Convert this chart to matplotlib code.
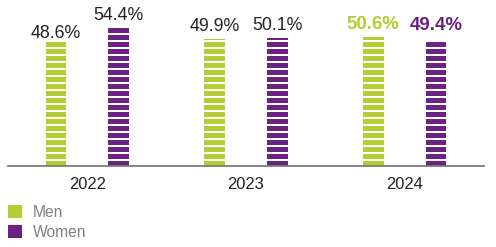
import matplotlib
matplotlib.use("Agg")
import matplotlib.pyplot as plt
from matplotlib.patches import Patch
import numpy as np

years = ["2022", "2023", "2024"]
men = [48.6, 49.9, 50.6]
women = [54.4, 50.1, 49.4]
men_labels = ["48.6%", "49.9%", "50.6%"]
women_labels = ["54.4%", "50.1%", "49.4%"]

# styling: gap (px) between bar top and label baseline
men_gap_px = [4.3, 7.7, 7.7]
women_gap_px = [8.0, 8.0, 10.7]

GREEN = "#b5cd35"
PURPLE = "#6b2283"
DARK = "#222222"

DPI = 84
plt.rcParams["font.family"] = ["Liberation Sans", "DejaVu Sans"]

fig = plt.figure(figsize=(496 / DPI, 247 / DPI), dpi=DPI)
W, H = 496, 247
ax_left, ax_right = 8, 484
ax_bottom_px, ax_top_px = 165.7, 13.3
YMAX = 60
ax = fig.add_axes([ax_left / W, 1 - ax_bottom_px / H, (ax_right - ax_left) / W, (ax_bottom_px - ax_top_px) / H])

x = np.arange(len(years))
off = 0.198
bw = 0.13
ax.bar(x - off, men, bw, color=GREEN, linewidth=0)
ax.bar(x + off, women, bw, color=PURPLE, linewidth=0)

# white horizontal stripes across bars (decoration), 7px period, 2px gap
px_per_unit = (ax_bottom_px - ax_top_px) / YMAX
period = 7 / px_per_unit
gap_lw = 2 * 72 / DPI
for xs, vals in ((x - off, men), (x + off, women)):
    for xc, v in zip(xs, vals):
        ys = np.arange(6 / px_per_unit, v, period)
        ax.hlines(ys, xc - bw / 2, xc + bw / 2, colors="white", linewidth=gap_lw)

ax.set_xlim(-0.5, 2.5)
ax.set_ylim(0, YMAX)
ax.set_yticks([])
for s in ["top", "left", "right"]:
    ax.spines[s].set_visible(False)
ax.spines["bottom"].set_color("#7a7a7a")
ax.spines["bottom"].set_linewidth(1.5)
ax.set_xticks(x)
ax.set_xticklabels(years, fontsize=14.2, color=DARK)
ax.tick_params(axis="x", length=0, pad=9.5)

pt_per_px = 72 / DPI
for i in range(len(years)):
    last = i == len(years) - 1
    ax.annotate(men_labels[i], (x[i] - off, men[i]), xytext=(0, men_gap_px[i] * pt_per_px),
                textcoords="offset points", ha="center", va="baseline",
                fontsize=16 if last else 15.2,
                color=GREEN if last else DARK, fontweight="bold" if last else "normal")
    ax.annotate(women_labels[i], (x[i] + off, women[i]), xytext=(0, women_gap_px[i] * pt_per_px),
                textcoords="offset points", ha="center", va="baseline",
                fontsize=16 if last else 15.2,
                color=PURPLE if last else DARK, fontweight="bold" if last else "normal")

handles = [Patch(facecolor=GREEN, edgecolor="none"), Patch(facecolor=PURPLE, edgecolor="none")]
leg = fig.legend(handles, ["Men", "Women"], loc="upper left", bbox_to_anchor=(8 / W, 1 - 205 / H),
                 frameon=False, fontsize=13.4, handlelength=0.87, handleheight=0.87,
                 handletextpad=0.7, labelspacing=0.33, borderpad=0, borderaxespad=0)
for t in leg.get_texts():
    t.set_color("#808080")

fig.savefig("out.png", dpi=DPI)
